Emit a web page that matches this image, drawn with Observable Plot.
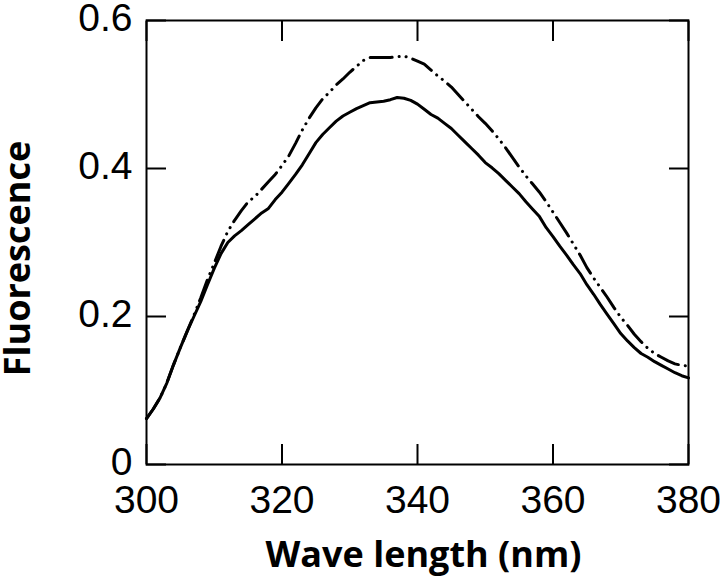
<!DOCTYPE html>
<html><head><meta charset="utf-8">
<script src="https://cdn.jsdelivr.net/npm/d3@7"></script>
<script src="https://cdn.jsdelivr.net/npm/@observablehq/plot@0.6"></script>
<style>body{margin:0;background:#fff}</style>
</head><body><div id="chart"></div>
<script>
const wavelengths = [300,301,302,303,304,305,306,307,308,309,310,311,312,313,314,315,316,317,318,319,320,321,322,323,324,325,326,327,328,329,330,331,332,333,334,335,336,337,338,339,340,341,342,343,344,345,346,347,348,349,350,351,352,353,354,355,356,357,358,359,360,361,362,363,364,365,366,367,368,369,370,371,372,373,374,375,376,377,378,379,380];
const solidValues = [0.062,0.075,0.090,0.110,0.135,0.158,0.180,0.200,0.220,0.243,0.265,0.285,0.300,0.309,0.316,0.324,0.332,0.340,0.346,0.358,0.368,0.380,0.392,0.405,0.420,0.435,0.446,0.455,0.464,0.471,0.476,0.481,0.485,0.489,0.490,0.491,0.493,0.496,0.495,0.492,0.487,0.480,0.473,0.468,0.461,0.454,0.445,0.436,0.427,0.418,0.408,0.401,0.393,0.384,0.375,0.366,0.355,0.345,0.335,0.320,0.308,0.295,0.283,0.270,0.258,0.243,0.230,0.216,0.203,0.190,0.177,0.167,0.158,0.150,0.145,0.139,0.134,0.129,0.124,0.120,0.117];
const dashedValues = [0.062,0.075,0.090,0.110,0.135,0.158,0.180,0.202,0.225,0.250,0.272,0.295,0.315,0.330,0.343,0.355,0.362,0.372,0.382,0.392,0.404,0.417,0.434,0.452,0.468,0.482,0.494,0.503,0.513,0.521,0.530,0.538,0.546,0.550,0.550,0.550,0.550,0.551,0.552,0.549,0.545,0.541,0.533,0.525,0.518,0.510,0.500,0.490,0.480,0.470,0.461,0.451,0.440,0.428,0.415,0.402,0.390,0.379,0.368,0.355,0.341,0.327,0.313,0.298,0.283,0.266,0.252,0.239,0.226,0.212,0.199,0.188,0.176,0.166,0.157,0.150,0.145,0.140,0.136,0.134,0.133];
const xTicks = [300,320,340,360,380];
const yTicks = [0,0.2,0.4,0.6];
const yTickLabels = ["0","0.2","0.4","0.6"];
const xTitle = "Wave length (nm)";
const yTitle = "Fluorescence";

const solid = wavelengths.map((w,i)=>({w, v: solidValues[i]}));
const dashed = wavelengths.map((w,i)=>({w, v: dashedValues[i]}));
const tickFont = "'Liberation Sans', Arial, sans-serif";
const titleFont = "'Open Sans', 'Noto Sans', sans-serif";

const chart = Plot.plot({
  width: 720, height: 586,
  marginLeft: 146, marginRight: 32, marginTop: 20, marginBottom: 122,
  style: {fontFamily: tickFont, background: "#fff", color: "#000"},
  x: {domain: [300,380]},
  y: {domain: [0,0.6]},
  marks: [
    Plot.frame({stroke: "#000", strokeWidth: 2}),
    Plot.axisX(xTicks, {anchor: "bottom", tickSize: -20, strokeWidth: 2, fill: "none", label: null}),
    Plot.axisX(xTicks, {anchor: "top", tickSize: -20, strokeWidth: 2, fill: "none", label: null}),
    Plot.axisY(yTicks, {anchor: "left", tickSize: -20, strokeWidth: 2, fill: "none", label: null}),
    Plot.axisY(yTicks, {anchor: "right", tickSize: -20, strokeWidth: 2, fill: "none", label: null}),
    Plot.axisX(xTicks, {anchor: "bottom", tickSize: 0, tickPadding: 21, fontSize: 39, label: null, fill: "#000"}),
    Plot.axisY(yTicks, {anchor: "left", tickSize: 0, tickPadding: 14, fontSize: 39, dy: -2, label: null, fill: "#000",
      tickFormat: (d) => yTickLabels[yTicks.indexOf(d)]}),
    Plot.line(solid, {x: "w", y: "v", stroke: "#000", strokeWidth: 3}),
    Plot.line(dashed, {x: "w", y: "v", stroke: "#000", strokeWidth: 3, strokeDasharray: "22,7,0.1,7,0.1,7", strokeLinecap: "round"}),
    Plot.text([xTitle], {text: d => d, frameAnchor: "bottom", textAnchor: "middle", dy: 102, dx: 6, fontSize: 36, fontWeight: "bold", fontFamily: titleFont, fill: "#000"}),
    Plot.text([yTitle], {text: d => d, frameAnchor: "left", textAnchor: "middle", rotate: -90, dx: -128, dy: 16, fontSize: 36, fontWeight: "bold", fontFamily: titleFont, fill: "#000"})
  ]
});
document.getElementById("chart").appendChild(chart);
</script>
</body></html>
